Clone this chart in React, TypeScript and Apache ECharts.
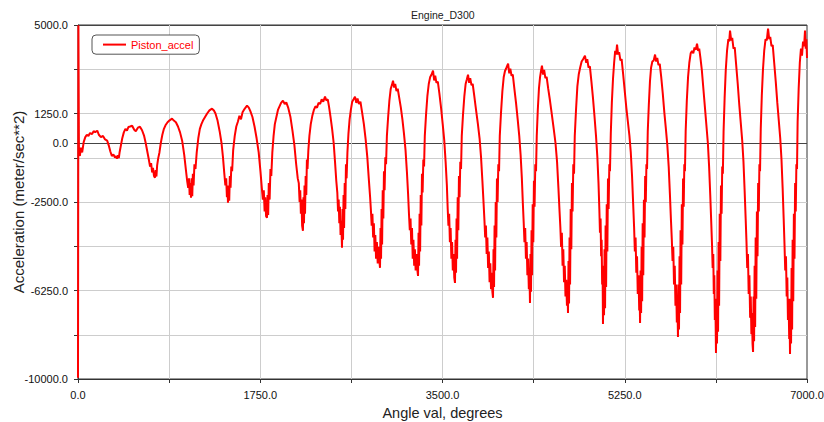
import React, { useEffect, useRef } from "react";
import * as echarts from "echarts";

const chartTitle = "Engine_D300";
const seriesName = "Piston_accel";
const xAxisName = "Angle val, degrees";
const yAxisName = "Acceleration (meter/sec**2)";

const xLabelValues = [0, 1750, 3500, 5250, 7000];
const yLabelValues = [5000, 1250, -2500, -6250, -10000];
const zeroLabelValues = [0];

// [angle (deg), acceleration (m/s^2)]
const startup: [number, number][] = [
  [0, -9950], [4, 4990], [9, -300], [18, -550], [28, -200], [40, -400], [55, 50], [70, 250],
  [85, 350], [100, 300], [115, 420], [135, 380], [150, 500], [165, 460], [185, 520], [200, 350],
  [220, 250], [240, 300], [260, 150], [280, 100], [295, -100], [310, -350], [325, -550], [340, -480],
  [355, -620], [365, -550], [374, -666], [383, -520], [392, -640],
];

const cyclesEarly: [number, number][] = [
  [400, -380], [412, -100], [425, 200], [440, 450], [455, 600], [470, 520], [485, 680], [500, 700],
  [520, 730], [540, 560], [555, 500], [575, 650], [595, 690], [615, 540], [635, 300], [650, 0],
  [665, -350], [680, -700], [692, -1000], [702, -850], [712, -1250], [720, -1050], [730, -1400],
  [739, -1470], [746, -1150], [753, -1420], [760, -950],
  [770, -650], [782, -400], [795, 0], [810, 350], [825, 600], [840, 750], [860, 880], [880, 960],
  [903, 1031], [920, 950], [940, 880], [960, 700], [980, 450], [1000, 100], [1020, -500],
  [1035, -1100], [1048, -1600], [1058, -1900], [1066, -1500], [1072, -2200], [1078, -1700],
  [1085, -2320], [1091, -1500], [1097, -2250], [1103, -1300], [1110, -1800],
  [1118, -900], [1128, -1100], [1140, -400], [1155, 200], [1170, 600], [1185, 800], [1200, 950],
  [1220, 1100], [1240, 1250], [1262, 1380], [1287, 1455], [1305, 1380], [1320, 1250], [1340, 950],
  [1360, 500], [1378, 0], [1392, -600], [1405, -1300], [1415, -1800], [1423, -1500], [1430, -2300],
  [1436, -1800], [1440, -2530], [1446, -1900], [1452, -2450], [1458, -1400], [1465, -1900],
  [1472, -1000], [1480, -1200], [1490, -300], [1505, 300], [1520, 700], [1535, 900], [1550, 1150],
  [1565, 1000], [1580, 1300], [1600, 1450], [1623, 1582], [1640, 1500], [1655, 1350], [1675, 1100],
  [1695, 700], [1715, 200], [1735, -400], [1752, -1200], [1765, -1900], [1775, -2400], [1784, -2000],
  [1792, -2900], [1798, -2300], [1806, -3100], [1815, -3170], [1820, -2200], [1826, -3050],
  [1832, -1700], [1840, -2400],
  [1848, -1100], [1856, -1400], [1866, -400], [1878, 300], [1890, 800], [1905, 1100], [1920, 1400],
  [1935, 1550], [1950, 1700], [1968, 1795], [1985, 1650], [2000, 1720], [2018, 1500], [2040, 1100],
  [2060, 500], [2078, -100], [2095, -900], [2110, -1500],
];

const cyclesMid: [number, number][] = [
  [2120, -1700], [2128, -2500], [2134, -2000], [2140, -3000], [2146, -2400], [2152, -3500],
  [2160, -3720], [2165, -2300], [2170, -3400], [2175, -1800], [2180, -3000], [2186, -1400],
  [2192, -2200], [2198, -700], [2204, -1100],
  [2212, -300], [2222, 300], [2235, 800], [2250, 1150], [2265, 1400], [2280, 1550], [2295, 1500],
  [2310, 1700], [2325, 1650], [2340, 1850], [2355, 1750], [2372, 1964], [2385, 1800], [2398, 1850],
  [2410, 1550], [2425, 1100], [2440, 600], [2455, 0], [2468, -800], [2480, -1600], [2490, -2100],
  [2497, -2900], [2503, -2400], [2509, -3400], [2515, -2700], [2521, -3900], [2528, -3300],
  [2535, -4440], [2540, -2800], [2545, -4100], [2550, -2200], [2555, -3600], [2561, -1700],
  [2567, -2800], [2573, -900], [2579, -1500],
  [2587, -400], [2597, 400], [2608, 1000], [2620, 1400], [2633, 1750], [2646, 1850], [2660, 1964],
  [2672, 1700], [2684, 1880], [2698, 1650], [2712, 1750], [2728, 1300], [2745, 800], [2762, 150],
  [2778, -600], [2792, -1500], [2805, -2300],
  [2812, -2800], [2820, -3500], [2827, -3000], [2834, -4000], [2841, -3400], [2848, -4600],
  [2855, -3900], [2862, -4900], [2870, -4200], [2878, -5100], [2885, -4400], [2892, -4900],
  [2900, -5290], [2905, -3600], [2910, -4900], [2915, -2800], [2920, -4300], [2926, -2000],
  [2932, -3200], [2938, -1200], [2944, -2000],
  [2951, -600], [2958, -900], [2966, 300], [2978, 1100], [2990, 1800], [3003, 2300], [3014, 2450],
  [3025, 2643], [3036, 2350], [3046, 2500], [3058, 2200], [3070, 2300], [3085, 1900], [3100, 1500],
  [3115, 1000], [3130, 400], [3145, -300], [3158, -1200], [3170, -2200],
  [3178, -3000], [3186, -3700], [3193, -3200], [3200, -4300], [3207, -3600], [3214, -4900],
  [3221, -4100], [3228, -5200], [3235, -4500], [3242, -5400], [3249, -4700], [3257, -5300],
  [3265, -5630], [3270, -3800], [3275, -5200], [3280, -3000], [3285, -4600], [3291, -2200],
  [3297, -3500], [3303, -1300], [3309, -2100],
  [3316, -700], [3323, -1000], [3330, 300], [3342, 1200], [3355, 2000], [3368, 2500], [3382, 2800],
  [3395, 2900], [3409, 3067], [3420, 2650], [3430, 2850], [3442, 2550], [3455, 2600], [3470, 2100],
  [3486, 1500], [3502, 800], [3517, 100], [3530, -800], [3542, -1800],
  [3550, -2800], [3557, -3500], [3564, -3000], [3571, -4200], [3578, -3600], [3585, -4900],
  [3592, -4200], [3599, -5400], [3606, -4700], [3613, -5700], [3620, -5930], [3625, -4100],
  [3630, -5500], [3635, -3200], [3640, -4900], [3646, -2300], [3652, -3700], [3658, -1400],
  [3664, -2300],
  [3671, -800], [3678, -1100], [3685, 300], [3697, 1200], [3710, 2000], [3722, 2500], [3734, 2700],
  [3745, 2897], [3756, 2550], [3766, 2750], [3778, 2450], [3790, 2500], [3805, 2000], [3822, 1400],
  [3840, 800], [3856, 200], [3870, -600], [3883, -1600], [3895, -2600],
  [3903, -3300], [3910, -4000], [3917, -3500], [3924, -4700], [3931, -4000], [3938, -5300],
  [3945, -4600], [3952, -5900], [3959, -5100], [3966, -6200], [3973, -5500], [3979, -6300],
  [3985, -6560], [3990, -4500], [3995, -6100], [4000, -3500], [4005, -5400], [4011, -2500],
  [4017, -4000], [4023, -1500], [4029, -2500],
  [4036, -900], [4043, -1200], [4050, 300], [4062, 1300], [4075, 2200], [4088, 2800], [4100, 3050],
  [4115, 3200], [4130, 3364], [4141, 2950], [4151, 3150], [4163, 2850], [4175, 2900], [4190, 2300],
  [4206, 1700], [4222, 1000], [4237, 300], [4250, -500], [4262, -1500], [4272, -2600],
  [4280, -3400], [4287, -4200], [4294, -3600], [4301, -4900], [4308, -4200], [4315, -5600],
  [4322, -4900], [4329, -6200], [4335, -5500], [4340, -6776], [4345, -4700], [4350, -6300],
  [4355, -3700], [4360, -5600], [4366, -2600], [4372, -4200], [4378, -1600], [4384, -2700],
  [4391, -900], [4398, -1200], [4405, 300], [4415, 1400], [4426, 2300], [4437, 2800], [4446, 3050],
  [4455, 3279], [4466, 2900], [4476, 3100], [4488, 2750], [4500, 2800], [4515, 2300], [4532, 1800],
  [4550, 1200], [4568, 600], [4585, 0], [4600, -800], [4613, -1900], [4624, -2900],
];

const cyclesLate: [number, number][] = [
  [4632, -3600], [4639, -4400], [4646, -3800], [4653, -5200], [4660, -4500], [4667, -5900],
  [4674, -5200], [4681, -6500], [4688, -5800], [4695, -6900], [4700, -6200], [4705, -7200],
  [4710, -5000], [4715, -6800], [4720, -4000], [4725, -6000], [4731, -2800], [4737, -4500],
  [4743, -1700], [4749, -2900],
  [4756, -900], [4763, -1300], [4770, 300], [4782, 1400], [4795, 2400], [4808, 2900], [4822, 3200],
  [4836, 3450], [4850, 3550], [4868, 3703], [4880, 3400], [4890, 3550], [4902, 3200], [4915, 3250],
  [4930, 2600], [4945, 1900], [4960, 1100], [4974, 300], [4987, -600], [4998, -1700],
  [5006, -2800], [5012, -3800], [5018, -3200], [5023, -4800], [5028, -4100], [5033, -6000],
  [5037, -5200], [5041, -7667], [5046, -5600], [5051, -7300], [5056, -4500], [5061, -7000],
  [5066, -3500], [5071, -6100], [5077, -2600], [5083, -4600], [5089, -1500], [5095, -2800],
  [5102, -900], [5108, -1200], [5116, 400], [5126, 1700], [5137, 2700], [5148, 3400], [5158, 3900],
  [5167, 3750], [5176, 4170], [5186, 3750], [5196, 3850], [5208, 3500], [5220, 3550], [5235, 2900],
  [5250, 2200], [5265, 1500], [5280, 900], [5295, 300], [5308, -400], [5320, -1400], [5331, -2600],
  [5340, -3600], [5347, -4600], [5354, -4000], [5361, -5500], [5368, -4800], [5375, -6400],
  [5382, -5600], [5389, -7100], [5393, -6300], [5397, -7625], [5402, -5400], [5407, -7200],
  [5412, -4400], [5417, -6700], [5422, -3400], [5428, -5600], [5434, -2400], [5440, -4000],
  [5446, -1400], [5452, -2500],
  [5458, -900], [5464, -1100], [5471, 500], [5481, 1600], [5492, 2600], [5503, 3200], [5515, 3450],
  [5528, 3500], [5541, 3746], [5552, 3450], [5562, 3600], [5574, 3300], [5586, 3350], [5600, 2800],
  [5615, 2100], [5630, 1300], [5645, 600], [5659, -100], [5672, -1000], [5684, -2200], [5694, -3300],
  [5702, -4100], [5709, -5000], [5716, -4400], [5723, -6000], [5730, -5200], [5737, -6900],
  [5744, -6000], [5750, -7600], [5756, -6800], [5761, -8218], [5766, -6000], [5771, -7900],
  [5776, -4800], [5781, -7200], [5786, -3700], [5792, -6000], [5798, -2600], [5804, -4300],
  [5810, -1500], [5816, -2700],
  [5822, -900], [5828, -1200], [5835, 500], [5846, 1800], [5858, 2800], [5870, 3400], [5883, 3800],
  [5896, 3900], [5908, 3800], [5920, 4050], [5932, 3950], [5944, 4212], [5955, 3900], [5965, 4000],
  [5977, 3600], [5990, 3100], [6005, 2300], [6020, 1500], [6035, 700], [6048, 0], [6060, -1000],
  [6071, -2200], [6080, -3300],
  [6088, -4300], [6094, -5300], [6100, -4700], [6105, -6400], [6110, -5600], [6115, -7500],
  [6120, -6600], [6126, -8897], [6131, -6800], [6136, -8500], [6141, -5400], [6146, -8000],
  [6151, -4200], [6156, -6900], [6162, -3000], [6168, -5000], [6174, -1800], [6180, -3000],
  [6186, -1000], [6192, -1300], [6199, 500], [6209, 1900], [6220, 3100], [6232, 3900], [6245, 4400],
  [6253, 4300], [6261, 4764], [6272, 4350], [6282, 4450], [6294, 4000], [6306, 4050], [6320, 3300],
  [6335, 2500], [6350, 1600], [6365, 800], [6378, 100], [6390, -800], [6401, -2000], [6411, -3200],
  [6419, -4200], [6426, -5300], [6433, -4700], [6440, -6400], [6447, -5600], [6454, -7400],
  [6460, -6500], [6466, -8100], [6472, -7200], [6477, -8500], [6482, -8855], [6487, -6500],
  [6492, -8400], [6497, -5200], [6502, -7800], [6507, -4000], [6513, -6600], [6519, -2900],
  [6525, -4800], [6531, -1700], [6537, -2900],
  [6543, -900], [6549, -1200], [6556, 600], [6566, 2000], [6577, 3100], [6589, 3900], [6602, 4400],
  [6614, 4350], [6626, 4849], [6637, 4400], [6647, 4500], [6659, 4100], [6671, 4150], [6685, 3400],
  [6700, 2600], [6715, 1700], [6730, 900], [6743, 200], [6755, -700], [6766, -1900], [6776, -3200],
  [6784, -4300], [6791, -5400], [6798, -4800], [6805, -6500], [6811, -5700], [6817, -7500],
  [6823, -6600], [6829, -8300], [6833, -7400], [6837, -8940], [6842, -6600], [6847, -8500],
  [6852, -5300], [6857, -7900], [6862, -4100], [6868, -6700], [6874, -3000], [6880, -4900],
  [6886, -1700], [6892, -2900],
  [6898, -900], [6904, -1100], [6910, 900], [6920, 2300], [6931, 3400], [6942, 4000], [6952, 3700],
  [6962, 4300], [6972, 4100], [6981, 4764], [6988, 4000], [6994, 4400], [7000, 3600],
];

const FONT = "'Liberation Sans', Arial, sans-serif";

export default function App() {
  const ref = useRef<HTMLDivElement>(null);

  useEffect(() => {
    if (!ref.current) return;
    const chart = echarts.init(ref.current, null, { renderer: "svg" });
    const data = [...startup, ...cyclesEarly, ...cyclesMid, ...cyclesLate];

    chart.setOption({
      animation: false,
      backgroundColor: "#ffffff",
      title: {
        text: chartTitle,
        left: 411,
        top: 9,
        padding: 0,
        textStyle: { fontFamily: FONT, fontSize: 10.5, fontWeight: "normal", color: "#222" },
      },
      legend: {
        left: 92,
        top: 35,
        padding: [4, 6, 4, 10],
        itemWidth: 23,
        itemHeight: 14,
        borderColor: "#555",
        borderWidth: 1,
        borderRadius: 4,
        backgroundColor: "#fff",
        itemStyle: { opacity: 0 },
        lineStyle: { width: 2 },
        textStyle: { color: "#ff0000", fontSize: 11, fontFamily: FONT },
        data: [seriesName],
      },
      grid: {
        left: 78,
        right: 17,
        top: 25,
        bottom: 43,
        show: true,
        borderColor: "#333",
        borderWidth: 1,
        backgroundColor: "transparent",
        outerBoundsMode: "none",
        containLabel: false,
      },
      xAxis: {
        type: "value",
        min: 0,
        max: 7000,
        interval: 875,
        name: xAxisName,
        nameLocation: "middle",
        nameGap: 26,
        nameMoveOverlap: false,
        nameTextStyle: { fontFamily: FONT, fontSize: 14.5, color: "#222" },
        axisLine: { show: true, onZero: false, lineStyle: { color: "#333", width: 1 } },
        axisTick: { show: true, length: 4, lineStyle: { color: "#333" } },
        axisLabel: {
          fontFamily: FONT,
          fontSize: 11,
          color: "#111",
          margin: 10,
          showMinLabel: true,
          showMaxLabel: true,
          formatter: (v: number) => (xLabelValues.includes(v) ? v.toFixed(1) : ""),
        },
        splitLine: { show: true, showMinLine: false, showMaxLine: false, lineStyle: { color: "#cdcdcd", width: 1 } },
      },
      yAxis: [
        {
          type: "value",
          min: -10000,
          max: 5000,
          interval: 1875,
          name: yAxisName,
          nameLocation: "middle",
          nameGap: 52,
          nameRotate: 90,
          nameMoveOverlap: false,
          nameTextStyle: { fontFamily: FONT, fontSize: 15, color: "#222" },
          axisLine: { show: true, onZero: false, lineStyle: { color: "#333", width: 1 } },
          axisTick: { show: true, length: 4, lineStyle: { color: "#333" } },
          axisLabel: {
            fontFamily: FONT,
            fontSize: 11,
            color: "#111",
            margin: 10,
            showMinLabel: true,
            showMaxLabel: true,
            formatter: (v: number) => (yLabelValues.includes(v) ? v.toFixed(1) : ""),
          },
          splitLine: { show: true, showMinLine: false, showMaxLine: false, lineStyle: { color: "#cdcdcd", width: 1 } },
        },
        {
          type: "value",
          position: "left",
          min: -10000,
          max: 5000,
          interval: 10000,
          axisLine: { show: false },
          axisTick: { show: true, length: 4, lineStyle: { color: "#333" } },
          axisLabel: {
            fontFamily: FONT,
            fontSize: 11,
            color: "#111",
            margin: 10,
            formatter: (v: number) => (zeroLabelValues.includes(v) ? v.toFixed(1) : ""),
          },
          splitLine: { show: true, lineStyle: { color: "#444", width: 1 } },
        },
      ],
      series: [
        {
          type: "line",
          name: seriesName,
          data,
          symbol: "none",
          showSymbol: false,
          clip: true,
          color: "#ff0000",
          lineStyle: { color: "#ff0000", width: 2 },
          z: 3,
        },
      ],
    });

    return () => chart.dispose();
  }, []);

  return (
    <div
      ref={ref}
      style={{ position: "fixed", left: 0, top: 0, width: 824, height: 422, background: "#fff" }}
    />
  );
}
